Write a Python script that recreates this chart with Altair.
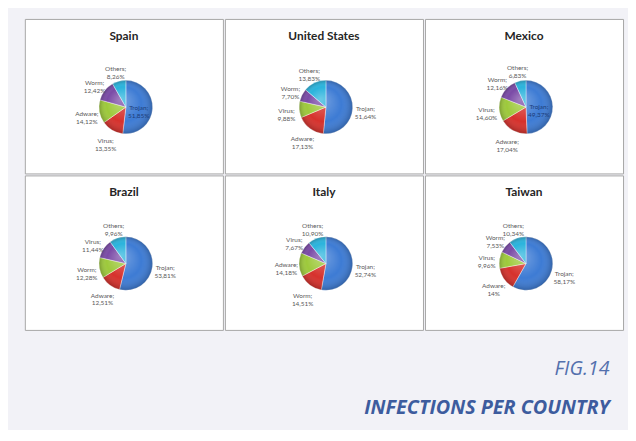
import altair as alt
import pandas as pd

countries = ["Spain", "United States", "Mexico", "Brazil", "Italy", "Taiwan"]

# slices listed clockwise from 12 o'clock
spain_names = ["Trojan", "Virus", "Adware", "Worm", "Others"]
spain_values = [51.85, 13.35, 14.12, 12.42, 8.26]
us_names = ["Trojan", "Adware", "Virus", "Worm", "Others"]
us_values = [51.64, 17.13, 9.88, 7.70, 13.83]
mexico_names = ["Trojan", "Adware", "Virus", "Worm", "Others"]
mexico_values = [49.37, 17.04, 14.60, 12.16, 6.83]
brazil_names = ["Trojan", "Adware", "Worm", "Virus", "Others"]
brazil_values = [53.81, 12.51, 12.28, 11.44, 9.96]
italy_names = ["Trojan", "Worm", "Adware", "Virus", "Others"]
italy_values = [52.74, 14.51, 14.18, 7.67, 10.90]
taiwan_names = ["Trojan", "Adware", "Virus", "Worm", "Others"]
taiwan_values = [58.17, 14.00, 9.96, 7.53, 10.34]

slice_colors = ["#3d7bd4", "#d6312c", "#9dc93b", "#7a4aa6", "#2ab3dc"]

series = {
    "Spain": (spain_names, spain_values),
    "United States": (us_names, us_values),
    "Mexico": (mexico_names, mexico_values),
    "Brazil": (brazil_names, brazil_values),
    "Italy": (italy_names, italy_values),
    "Taiwan": (taiwan_names, taiwan_values),
}


def fmt(v):
    if float(v).is_integer():
        s = str(int(v))
    else:
        s = f"{v:.2f}"
    return s.replace(".", ",") + "%"


rows = []
for c in countries:
    names, vals = series[c]
    for i, (n, v) in enumerate(zip(names, vals)):
        rows.append({"country": c, "slot": i, "name": n, "value": v,
                     "label": f"{n};\n{fmt(v)}"})
df = pd.DataFrame(rows)

CX, CY, R = 102, 89, 27


def panel(country):
    arcs = alt.Chart().mark_arc(outerRadius=R, stroke="#ffffff", strokeWidth=0.4).encode(
        theta=alt.Theta("a0:Q", scale=None),
        theta2="a1:Q",
        color=alt.Color("slot:N", scale=alt.Scale(domain=[0, 1, 2, 3, 4], range=slice_colors), legend=None),
        x=alt.value(CX),
        y=alt.value(CY),
    )

    gloss = alt.Chart().mark_arc(
        theta=0, theta2=6.2832, outerRadius=R,
        fill={"gradient": "radial", "x1": 0.4, "y1": 0.35, "r1": 0, "x2": 0.5, "y2": 0.5, "r2": 0.5,
              "stops": [{"offset": 0, "color": "rgba(255,255,255,0.30)"},
                        {"offset": 0.65, "color": "rgba(255,255,255,0)"},
                        {"offset": 1, "color": "rgba(0,0,0,0.22)"}]},
    ).encode(x=alt.value(CX), y=alt.value(CY)).transform_filter("datum.slot == 0")

    labels = alt.Chart().mark_text(fontSize=6.5, lineBreak="\n", font="Lato", lineHeight=8).encode(
        text="label:N",
        x=alt.value(CX),
        y=alt.value(CY),
        theta=alt.Theta("amid:Q", scale=None),
        radius=alt.Radius("r:Q", scale=None),
        color=alt.Color("tc:N", scale=None),
    ).transform_calculate(
        inside="datum.slot == 0 && (datum.country == 'Spain' || datum.country == 'Mexico')",
    ).transform_calculate(
        r="datum.inside ? 13 : 40",
        tc="datum.inside ? '#1d3c78' : '#595959'",
    )

    titles = alt.Chart().mark_text(font="Lato", fontWeight="bold", fontSize=12, color="#262626").encode(
        text="country:N",
        x=alt.value(100),
        y=alt.value(17),
    ).transform_filter("datum.slot == 0")

    return alt.layer(arcs, gloss, labels, titles, data=df).transform_filter(
        alt.FieldEqualPredicate(field="country", equal=country)
    ).transform_window(
        cum="sum(value)", sort=[alt.SortField("slot", order="ascending")],
        frame=[None, 0],
    ).transform_joinaggregate(
        total="sum(value)"
    ).transform_calculate(
        a0="(datum.cum - datum.value) / datum.total * 2 * PI",
        a1="datum.cum / datum.total * 2 * PI",
    ).transform_calculate(
        amid="(datum.a0 + datum.a1) / 2"
    ).properties(width=200, height=156)


chart = alt.concat(*[panel(c) for c in countries], columns=3, spacing=0).properties(
    title=alt.TitleParams(
        text="FIG.14",
        subtitle="INFECTIONS PER COUNTRY",
        orient="bottom",
        anchor="end",
        font="Open Sans",
        fontSize=20,
        fontStyle="italic",
        fontWeight="normal",
        color="#5470ad",
        subtitleFont="Open Sans",
        subtitleFontSize=20,
        subtitleFontStyle="italic",
        subtitleFontWeight="bold",
        subtitleColor="#3d5c9e",
        offset=29,
        subtitlePadding=19,
        dx=-14,
    ),
    padding={"left": 16, "top": 8, "right": 4, "bottom": 10},
    background="#f2f2f7",
).configure_view(
    stroke="#a6a6a6", strokeWidth=1, fill="#ffffff"
)

chart.save("out.html", embed_options={"renderer": "svg", "actions": False})
